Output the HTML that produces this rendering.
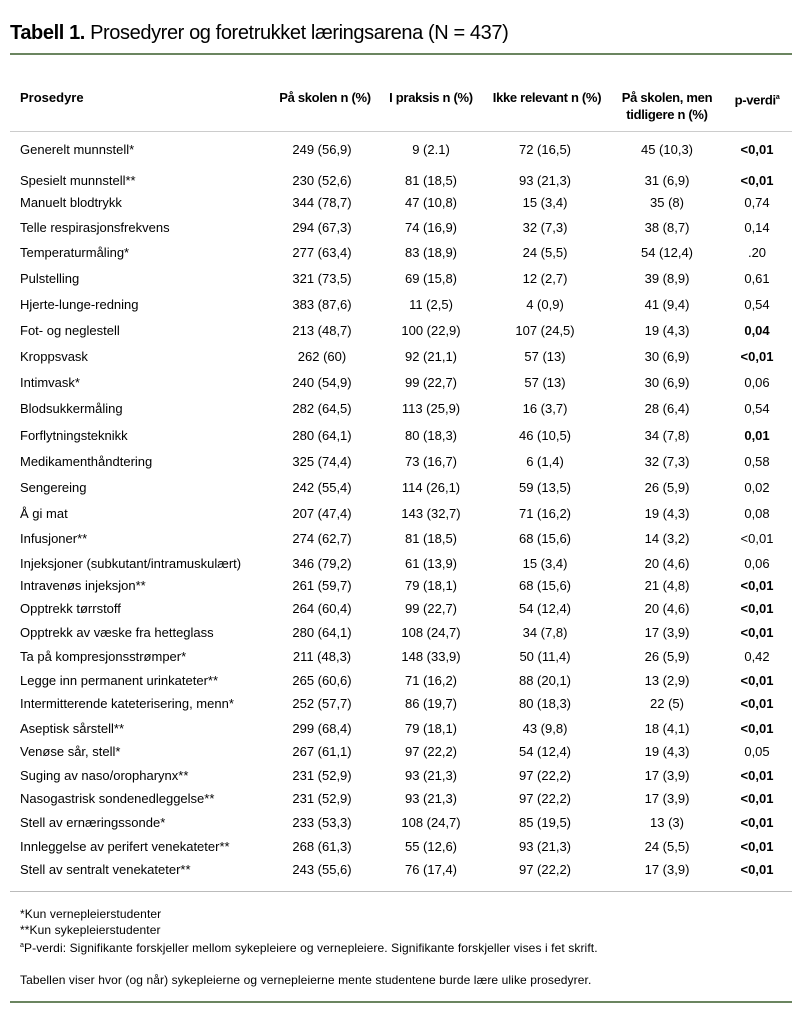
<!DOCTYPE html><html><head><meta charset="utf-8"><style>
body{margin:0;background:#fff;width:804px;height:1024px;position:relative;overflow:hidden;font-family:"Liberation Sans",sans-serif;color:#000}
.t{position:absolute;font-size:13px;line-height:16px;white-space:nowrap;letter-spacing:0}
.c{text-align:center;width:130px}
.b{font-weight:bold}
.hl{position:absolute;left:10px;width:782px}
.f{font-size:12px;letter-spacing:0.1px}
</style></head><body>
<div class="t" style="left:10px;top:20px;font-size:20px;line-height:26px;letter-spacing:-0.4px"><b>Tabell 1.</b> Prosedyrer og foretrukket læringsarena (N = 437)</div>
<div class="hl" style="top:53px;height:2px;background:#6b8560"></div>
<div class="t b" style="left:20px;top:90px">Prosedyre</div>
<div class="t b c" style="left:260px;top:90px;letter-spacing:-0.3px">På skolen n (%)</div>
<div class="t b c" style="left:366px;top:90px;letter-spacing:-0.3px">I praksis n (%)</div>
<div class="t b c" style="left:482px;top:90px;letter-spacing:-0.3px">Ikke relevant n (%)</div>
<div class="t b c" style="left:602px;top:90px;letter-spacing:-0.3px">På skolen, men</div>
<div class="t b c" style="left:602px;top:107px;letter-spacing:-0.3px">tidligere n (%)</div>
<div class="t b c" style="left:692px;top:90px;letter-spacing:-0.3px">p-verdi<sup style="font-size:7px">a</sup></div>
<div class="hl" style="top:131px;height:1px;background:#ccc"></div>
<div id="rows"></div>
<div class="hl" style="top:891px;height:1px;background:#bbb"></div>
<div class="t f" style="left:20px;top:906px">*Kun vernepleierstudenter</div>
<div class="t f" style="left:20px;top:922px">**Kun sykepleierstudenter</div>
<div class="t f" style="left:20px;top:938px"><sup style="font-size:7px">a</sup>P-verdi: Signifikante forskjeller mellom sykepleiere og vernepleiere. Signifikante forskjeller vises i fet skrift.</div>
<div class="t f" style="left:20px;top:972px">Tabellen viser hvor (og når) sykepleierne og vernepleierne mente studentene burde lære ulike prosedyrer.</div>
<div class="hl" style="top:1001px;height:2px;background:#6b8560"></div>
<script>
var d=[
[150,"Generelt munnstell*","249 (56,9)","9 (2.1)","72 (16,5)","45 (10,3)","<0,01",1],
[181,"Spesielt munnstell**","230 (52,6)","81 (18,5)","93 (21,3)","31 (6,9)","<0,01",1],
[203,"Manuelt blodtrykk","344 (78,7)","47 (10,8)","15 (3,4)","35 (8)","0,74",0],
[228,"Telle respirasjonsfrekvens","294 (67,3)","74 (16,9)","32 (7,3)","38 (8,7)","0,14",0],
[253,"Temperaturmåling*","277 (63,4)","83 (18,9)","24 (5,5)","54 (12,4)",".20",0],
[279,"Pulstelling","321 (73,5)","69 (15,8)","12 (2,7)","39 (8,9)","0,61",0],
[305,"Hjerte-lunge-redning","383 (87,6)","11 (2,5)","4 (0,9)","41 (9,4)","0,54",0],
[331,"Fot- og neglestell","213 (48,7)","100 (22,9)","107 (24,5)","19 (4,3)","0,04",1],
[357,"Kroppsvask","262 (60)","92 (21,1)","57 (13)","30 (6,9)","<0,01",1],
[383,"Intimvask*","240 (54,9)","99 (22,7)","57 (13)","30 (6,9)","0,06",0],
[409,"Blodsukkermåling","282 (64,5)","113 (25,9)","16 (3,7)","28 (6,4)","0,54",0],
[436,"Forflytningsteknikk","280 (64,1)","80 (18,3)","46 (10,5)","34 (7,8)","0,01",1],
[462,"Medikamenthåndtering","325 (74,4)","73 (16,7)","6 (1,4)","32 (7,3)","0,58",0],
[488,"Sengereing","242 (55,4)","114 (26,1)","59 (13,5)","26 (5,9)","0,02",0],
[514,"Å gi mat","207 (47,4)","143 (32,7)","71 (16,2)","19 (4,3)","0,08",0],
[539,"Infusjoner**","274 (62,7)","81 (18,5)","68 (15,6)","14 (3,2)","<0,01",0],
[564,"Injeksjoner (subkutant/intramuskulært)","346 (79,2)","61 (13,9)","15 (3,4)","20 (4,6)","0,06",0],
[586,"Intravenøs injeksjon**","261 (59,7)","79 (18,1)","68 (15,6)","21 (4,8)","<0,01",1],
[609,"Opptrekk tørrstoff","264 (60,4)","99 (22,7)","54 (12,4)","20 (4,6)","<0,01",1],
[633,"Opptrekk av væske fra hetteglass","280 (64,1)","108 (24,7)","34 (7,8)","17 (3,9)","<0,01",1],
[657,"Ta på kompresjonsstrømper*","211 (48,3)","148 (33,9)","50 (11,4)","26 (5,9)","0,42",0],
[681,"Legge inn permanent urinkateter**","265 (60,6)","71 (16,2)","88 (20,1)","13 (2,9)","<0,01",1],
[704,"Intermitterende kateterisering, menn*","252 (57,7)","86 (19,7)","80 (18,3)","22 (5)","<0,01",1],
[729,"Aseptisk sårstell**","299 (68,4)","79 (18,1)","43 (9,8)","18 (4,1)","<0,01",1],
[752,"Venøse sår, stell*","267 (61,1)","97 (22,2)","54 (12,4)","19 (4,3)","0,05",0],
[776,"Suging av naso/oropharynx**","231 (52,9)","93 (21,3)","97 (22,2)","17 (3,9)","<0,01",1],
[799,"Nasogastrisk sondenedleggelse**","231 (52,9)","93 (21,3)","97 (22,2)","17 (3,9)","<0,01",1],
[823,"Stell av ernæringssonde*","233 (53,3)","108 (24,7)","85 (19,5)","13 (3)","<0,01",1],
[847,"Innleggelse av perifert venekateter**","268 (61,3)","55 (12,6)","93 (21,3)","24 (5,5)","<0,01",1],
[870,"Stell av sentralt venekateter**","243 (55,6)","76 (17,4)","97 (22,2)","17 (3,9)","<0,01",1]];
var cx=[322,431,545,667,757],h="";
function e(s){return s.replace(/</g,"&lt;")}
d.forEach(function(r){var t=r[0]-8;
h+='<div class="t" style="left:20px;top:'+t+'px">'+r[1]+'</div>';
for(var i=0;i<5;i++)h+='<div class="t c'+(i==4&&r[7]?' b':'')+'" style="left:'+(cx[i]-65)+'px;top:'+t+'px">'+e(r[i+2])+'</div>';});
document.getElementById("rows").innerHTML=h;
</script>
</body></html>
